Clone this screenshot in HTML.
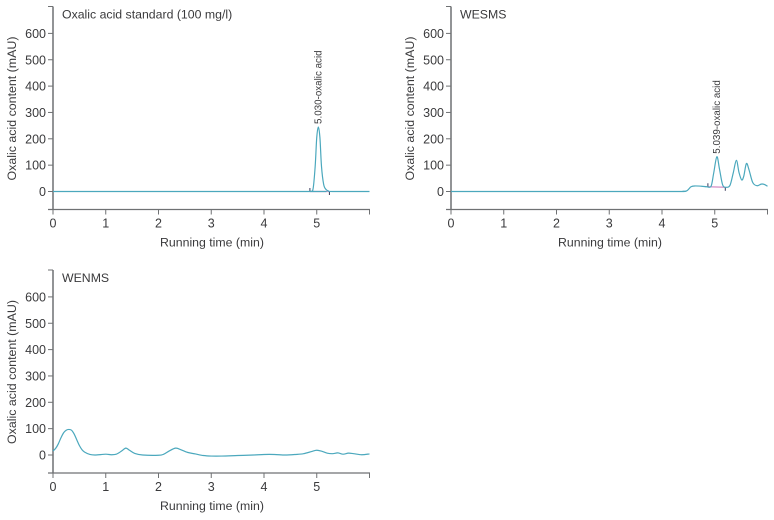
<!DOCTYPE html>
<html>
<head>
<meta charset="utf-8">
<style>
html,body{margin:0;padding:0;background:#fff;}
svg{display:block;font-family:"Liberation Sans",sans-serif;}
</style>
</head>
<body>
<svg id="chart" width="774" height="520" viewBox="0 0 774 520" xmlns="http://www.w3.org/2000/svg"></svg>
<script>
const xTicks = [0, 1, 2, 3, 4, 5, 6];
const xTickLabels = ["0", "1", "2", "3", "4", "5", ""];
const yTicks = [0, 100, 200, 300, 400, 500, 600];

const standardTimes = [0, 4.8, 4.88, 4.93, 4.97, 5.0, 5.03, 5.06, 5.09, 5.13, 5.17, 5.22, 5.3, 6];
const standardValues = [0, 0, 1, 10, 95, 205, 245, 205, 95, 28, 9, 2, 0, 0];

const wesmsTimes = [0, 4.0, 4.4, 4.48, 4.55, 4.62, 4.75, 4.85, 4.93, 4.98, 5.04, 5.09, 5.15, 5.22, 5.29, 5.35, 5.41, 5.46, 5.51, 5.55, 5.6, 5.65, 5.72, 5.8, 5.88, 5.94, 6];
const wesmsValues = [0, 0, 1, 4, 18, 21, 20, 18, 20, 70, 132, 85, 25, 16, 24, 70, 118, 72, 44, 58, 106, 82, 34, 22, 28, 27, 20];

const wenmsTimes = [0, 0.05, 0.1, 0.15, 0.2, 0.25, 0.3, 0.35, 0.4, 0.45, 0.5, 0.55, 0.6, 0.7, 0.8, 1, 1.1, 1.2, 1.3, 1.38, 1.45, 1.55, 1.7, 2, 2.1, 2.2, 2.32, 2.4, 2.55, 2.7, 2.85, 3, 3.2, 3.5, 3.8, 4, 4.2, 4.4, 4.6, 4.75, 4.9, 5, 5.1, 5.2, 5.3, 5.4, 5.5, 5.6, 5.7, 5.85, 6];
const wenmsValues = [15, 25, 42, 65, 84, 94, 97, 94, 80, 58, 36, 20, 11, 2, 0, 3, 1, 3, 15, 26, 18, 6, 0, -1, 3, 15, 26, 22, 10, 4, -2, -4, -4, -2, 0, 2, 2, 0, 2, 5, 13, 18, 14, 7, 5, 8, 3, 7, 5, 1, 4];

const NS = "http://www.w3.org/2000/svg";
const root = document.getElementById("chart");
const AXIS = "#6f7173", TEXT = "#3a3a3c", LINE = "#4ba8bd";

function add(parent, tag, attrs, txt) {
  const el = document.createElementNS(NS, tag);
  for (const k in attrs) el.setAttribute(k, attrs[k]);
  if (txt !== undefined) el.textContent = txt;
  parent.appendChild(el);
  return el;
}

function smoothPath(pts) {
  let d = "M" + pts[0][0].toFixed(2) + " " + pts[0][1].toFixed(2);
  for (let i = 0; i < pts.length - 1; i++) {
    const p0 = pts[Math.max(i - 1, 0)], p1 = pts[i], p2 = pts[i + 1], p3 = pts[Math.min(i + 2, pts.length - 1)];
    const c1x = p1[0] + (p2[0] - p0[0]) / 6;
    const c2x = p2[0] - (p3[0] - p1[0]) / 6;
    const scale1 = Math.min(1, (p2[0] - p1[0]) * 3 / Math.max(1e-6, p2[0] - p0[0]));
    const scale2 = Math.min(1, (p2[0] - p1[0]) * 3 / Math.max(1e-6, p3[0] - p1[0]));
    const c1y = p1[1] + (p2[1] - p0[1]) / 6 * scale1;
    const c2y = p2[1] - (p3[1] - p1[1]) / 6 * scale2;
    d += "C" + c1x.toFixed(2) + " " + c1y.toFixed(2) + " " + c2x.toFixed(2) + " " + c2y.toFixed(2) + " " + p2[0].toFixed(2) + " " + p2[1].toFixed(2);
  }
  return d;
}

function drawPanel(cfg) {
  const g = add(root, "g", {});
  
  
  const xScale = t => cfg.x0 + t * 52.75;
  const yScale = v => cfg.y0 - v * 0.2635;
  const axisBottom = cfg.y0 + 18;
  const axisTop = cfg.y0 - 185;

  const yAxis = add(g, "line", {x1: cfg.x0, x2: cfg.x0, y1: axisTop, y2: axisBottom, stroke: AXIS, "stroke-width": 1.5});
  
  
  const topTick = add(g, "line", {x1: cfg.x0 - 5, x2: cfg.x0, y1: axisTop, y2: axisTop, stroke: AXIS, "stroke-width": 1});
  
  
  const xAxis = add(g, "line", {x1: cfg.x0 - 5, x2: xScale(6) + 0.5, y1: axisBottom, y2: axisBottom, stroke: AXIS, "stroke-width": 1.3});
  
  

  yTicks.forEach(v => {
    const tick = add(g, "line", {x1: cfg.x0 - 5, x2: cfg.x0, y1: yScale(v), y2: yScale(v), stroke: AXIS, "stroke-width": 1});
    
    
    const label = add(g, "text", {x: cfg.x0 - 7, y: yScale(v) + 4.5, "text-anchor": "end", "font-size": 12.5, fill: TEXT}, v);
    
    
  });
  xTicks.forEach((t, i) => {
    const tick = add(g, "line", {x1: xScale(t), x2: xScale(t), y1: axisBottom, y2: axisBottom + 5, stroke: AXIS, "stroke-width": 1});
    
    
    if (xTickLabels[i] !== "") {
      const label = add(g, "text", {x: xScale(t), y: axisBottom + 18, "text-anchor": "middle", "font-size": 12.5, fill: TEXT}, xTickLabels[i]);
      
      
    }
  });

  const xTitle = add(g, "text", {x: cfg.x0 + 159, y: axisBottom + 37, "text-anchor": "middle", "font-size": 12.3, fill: TEXT}, "Running time (min)");
  
  
  const yx = cfg.x0 - 37, yy = cfg.y0 - 83;
  const yTitle = add(g, "text", {x: yx, y: yy, "text-anchor": "middle", "font-size": 12.4, fill: TEXT, transform: "rotate(-90 " + yx + " " + yy + ")"}, "Oxalic acid content (mAU)");
  
  
  const title = add(g, "text", {x: cfg.x0 + cfg.titleDx, y: cfg.y0 - 173, "font-size": 12.3, fill: TEXT}, cfg.title);
  
  

  if (cfg.base) {
    const b = cfg.base;
    const baseline = add(g, "line", {x1: xScale(b[0]), y1: yScale(b[1]), x2: xScale(b[2]), y2: yScale(b[3]), stroke: "#d48cc4", "stroke-width": 1.2});
    
    
    const left = add(g, "line", {x1: xScale(b[0]), x2: xScale(b[0]), y1: yScale(b[1]) - 3.5, y2: yScale(b[1]), stroke: "#3a3a5c", "stroke-width": 1});
    
    
    const right = add(g, "line", {x1: xScale(b[2]), x2: xScale(b[2]), y1: yScale(b[3]), y2: yScale(b[3]) + 3.5, stroke: "#3a3a5c", "stroke-width": 1});
    
    
  }

  const pts = cfg.times.map((t, i) => [xScale(t), yScale(cfg.values[i])]);
  const path = add(g, "path", {d: smoothPath(pts), fill: "none", stroke: LINE, "stroke-width": 1.2});
  
  

  if (cfg.peak) {
    const px = xScale(cfg.peak.time) + 3;
    const py = yScale(cfg.peak.value) - 3;
    const pk = add(g, "text", {x: px, y: py, "font-size": 9.8, fill: TEXT, transform: "rotate(-90 " + px + " " + py + ")"}, cfg.peak.label);
    
    
  }
}

drawPanel({name: "standard", x0: 53, y0: 191.5, titleDx: 9, title: "Oxalic acid standard (100 mg/l)", times: standardTimes, values: standardValues, base: [4.87, 0, 5.24, 0], peak: {time: 5.03, value: 245, label: "5.030-oxalic acid"}});
drawPanel({name: "wesms", x0: 451, y0: 191.5, titleDx: 9, title: "WESMS", times: wesmsTimes, values: wesmsValues, base: [4.87, 18, 5.2, 16], peak: {time: 5.04, value: 132, label: "5.039-oxalic acid"}});
drawPanel({name: "wenms", x0: 53, y0: 455, titleDx: 9, title: "WENMS", times: wenmsTimes, values: wenmsValues});
</script>
</body>
</html>
